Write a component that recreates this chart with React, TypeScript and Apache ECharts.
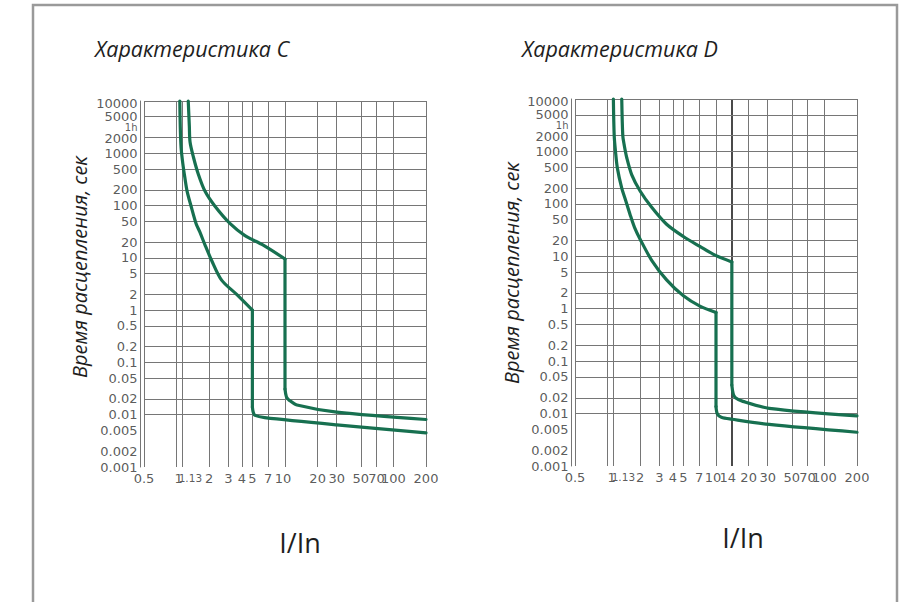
import React, { useEffect, useRef } from 'react';
import * as echarts from 'echarts';

// ---------- data ----------
const xTicksC = [0.5, 1, 1.13, 2, 3, 4, 5, 7, 10, 20, 30, 50, 70, 100, 200];
const xTicksD = [0.5, 1, 1.13, 2, 3, 4, 5, 7, 10, 14, 20, 30, 50, 70, 100, 200];
const yTicks = [10000, 5000, 2000, 1000, 500, 200, 100, 50, 20, 10, 5, 2, 1, 0.5, 0.2, 0.1, 0.05, 0.02, 0.01, 0.005, 0.002, 0.001];
const hourValue = 3600;
const hourLabel = '1h';

// Characteristic C (I/In, seconds); *Knee = index where the curve drops vertically
const cLowerI = [1.07, 1.08, 1.1, 1.14, 1.19, 1.25, 1.36, 1.51, 1.64, 1.83, 2.1, 2.6, 3.58, 5, 5, 5.1, 5.29, 6.5, 30, 200];
const cLowerT = [10000, 3280, 1265, 640, 347, 187, 97, 45.6, 31, 17.5, 9, 3.75, 2, 1, 0.014, 0.011, 0.0097, 0.0088, 0.0064, 0.0045];
const cLowerKnee = 13;
const cUpperI = [1.28, 1.31, 1.33, 1.43, 1.58, 1.83, 2.26, 3.1, 4.27, 6.3, 10, 10, 10.3, 10.9, 12.9, 30, 200];
const cUpperT = [10000, 3300, 1640, 840, 407, 187, 97, 45.6, 26.7, 17.5, 9.5, 0.031, 0.022, 0.019, 0.0153, 0.0112, 0.0081];
const cUpperKnee = 10;

// Characteristic D (I/In, seconds)
const dLowerI = [1.13, 1.15, 1.18, 1.23, 1.35, 1.47, 1.61, 1.77, 2, 2.55, 3.5, 5, 7.1, 10, 10, 10.3, 11.2, 14, 31, 200];
const dLowerT = [10000, 2000, 1040, 480, 200, 115, 63, 35.7, 21, 8.4, 3.55, 1.76, 1.12, 0.85, 0.0136, 0.0098, 0.0085, 0.0078, 0.0062, 0.0044];
const dLowerKnee = 13;
const dUpperI = [1.35, 1.38, 1.42, 1.5, 1.67, 2, 2.55, 3.5, 5, 7.1, 9.8, 14, 14, 14.4, 15.1, 17.7, 31, 200];
const dUpperT = [10000, 2000, 1350, 766, 358, 174, 86, 40.8, 23.8, 15.4, 10.5, 7.8, 0.035, 0.024, 0.02, 0.0171, 0.0126, 0.009];
const dUpperKnee = 11;

// ---------- styling ----------
const GREEN = '#177050';
const GRID = '#767676';
const LABEL = '#303030';
const TICK_FONT = '"DejaVu Sans", "Liberation Sans", sans-serif';
const TITLE_FONT = '"Open Sans", "Noto Sans", sans-serif';

const xLabelAdjC: Record<string, [number, number, number]> = {
  '1': [2, 0, 13],
  '1.13': [8, 1, 10.5],
  '10': [-2, 0, 13],
};
const xLabelAdjD: Record<string, [number, number, number]> = {
  '1': [4, 0, 13],
  '1.13': [10, 1, 10.5],
  '10': [-3, 0, 13],
  '14': [-4, 0, 13],
};

type Curve = { xs: number[]; ts: number[]; knee: number };

function lineSeries(idx: number, pts: number[][], smooth: number) {
  return {
    type: 'line',
    xAxisIndex: idx,
    yAxisIndex: idx,
    data: pts,
    showSymbol: false,
    symbol: 'none',
    smooth,
    clip: false,
    silent: true,
    lineStyle: { color: GREEN, width: 3.2, cap: 'round', join: 'round' },
    z: 5,
  };
}

function panelSeries(
  idx: number,
  xTicks: number[],
  adj: Record<string, [number, number, number]>,
  curves: Curve[],
  heavy: number | null
) {
  const xLabelData = xTicks.map((v) => {
    const name = String(v);
    const a = adj[name] || [0, 0, 13];
    return {
      name,
      value: [v, 0.001],
      label: { offset: [a[0], a[1]], fontSize: a[2] },
    };
  });
  const yLabelData: any[] = yTicks.map((v) => {
    const name = String(v);
    let off: [number, number] = [0, 0];
    if (v === 10000) off = [0, 2];
    if (v === 2000) off = [0, 1];
    return { name, value: [0.5, v], label: { offset: off } };
  });
  yLabelData.push({
    name: hourLabel,
    value: [0.5, hourValue],
    label: { offset: [0, 3], fontSize: 10 },
  });

  const gridLines: any[] = [
    ...xTicks.map((v) =>
      v === heavy
        ? { xAxis: v, lineStyle: { color: '#2a2a2a', width: 1.7 } }
        : { xAxis: v }
    ),
    ...yTicks.map((v) => ({ yAxis: v })),
  ];

  const out: any[] = [
    {
      type: 'scatter',
      xAxisIndex: idx,
      yAxisIndex: idx,
      symbolSize: 1,
      itemStyle: { color: 'rgba(0,0,0,0)' },
      clip: false,
      silent: true,
      data: xLabelData,
      label: {
        show: true,
        position: 'bottom',
        distance: 4,
        formatter: '{b}',
        color: LABEL,
        fontFamily: TICK_FONT,
        fontSize: 13,
      },
      markLine: {
        silent: true,
        symbol: ['none', 'none'],
        label: { show: false },
        lineStyle: { color: GRID, width: 1, type: 'solid' },
        emphasis: { disabled: true },
        data: gridLines,
      },
      z: 2,
    },
    {
      type: 'scatter',
      xAxisIndex: idx,
      yAxisIndex: idx,
      symbolSize: 1,
      itemStyle: { color: 'rgba(0,0,0,0)' },
      clip: false,
      silent: true,
      data: yLabelData,
      label: {
        show: true,
        position: 'left',
        distance: 6,
        formatter: '{b}',
        color: LABEL,
        fontFamily: TICK_FONT,
        fontSize: 13,
      },
      z: 2,
    },
  ];
  curves.forEach((c) => {
    const pts = c.xs.map((x, k) => [x, c.ts[k]]);
    // smooth time-current part, straight instantaneous drop, smooth tail
    out.push(lineSeries(idx, pts.slice(0, c.knee + 1), 0.3));
    out.push(lineSeries(idx, pts.slice(c.knee, c.knee + 2), 0));
    out.push(lineSeries(idx, pts.slice(c.knee + 1), 0.3));
  });
  return out;
}

export default function App() {
  const ref = useRef<HTMLDivElement>(null);
  useEffect(() => {
    if (!ref.current) return;
    const chart = echarts.init(ref.current, undefined, { renderer: 'svg' });
    const axisX = (i: number) => ({
      type: 'log',
      logBase: 10,
      min: 0.5,
      max: 200,
      gridIndex: i,
      axisLine: { show: false },
      axisTick: { show: false },
      axisLabel: { show: false },
      splitLine: { show: false },
    });
    const axisY = (i: number) => ({
      type: 'log',
      logBase: 10,
      min: 0.001,
      max: 10000,
      gridIndex: i,
      offset: 4,
      axisLine: { show: true, onZero: false, lineStyle: { color: GRID, width: 1 } },
      axisTick: { show: false },
      axisLabel: { show: false },
      splitLine: { show: false },
    });
    const titleText = (text: string, x: number, y: number) => ({
      type: 'text',
      x,
      y,
      silent: true,
      style: {
        text,
        fill: '#1e1e1e',
        fontSize: 21.5,
        fontStyle: 'italic',
        fontFamily: TITLE_FONT,
        align: 'left',
        verticalAlign: 'middle',
      },
    });
    const yName = (x: number, y: number) => ({
      type: 'text',
      x,
      y,
      rotation: Math.PI / 2,
      silent: true,
      style: {
        text: 'Время расцепления, сек',
        fill: '#1e1e1e',
        fontSize: 20,
        fontStyle: 'italic',
        fontFamily: TITLE_FONT,
        align: 'center',
        verticalAlign: 'middle',
      },
    });
    const xName = (x: number, y: number) => ({
      type: 'text',
      x,
      y,
      silent: true,
      style: {
        text: 'I/In',
        fill: '#1e1e1e',
        fontSize: 27,
        fontFamily: '"Open Sans", "Noto Sans", sans-serif',
        align: 'center',
        verticalAlign: 'middle',
      },
    });
    chart.setOption({
      animation: false,
      backgroundColor: '#ffffff',
      grid: [
        { left: 144, top: 101, width: 282, height: 366 },
        { left: 575, top: 99, width: 282, height: 367 },
      ],
      xAxis: [axisX(0), axisX(1)],
      yAxis: [axisY(0), axisY(1)],
      graphic: [
        {
          type: 'rect',
          silent: true,
          shape: { x: 33, y: 5, width: 864, height: 640 },
          style: { fill: 'none', stroke: '#9a9a9a', lineWidth: 2.5 },
        },
        titleText('Характеристика C', 95, 48),
        titleText('Характеристика D', 522, 48),
        yName(79, 267),
        yName(511, 273),
        xName(300, 542),
        xName(743, 537),
      ],
      series: [
        ...panelSeries(0, xTicksC, xLabelAdjC, [
          { xs: cLowerI, ts: cLowerT, knee: cLowerKnee },
          { xs: cUpperI, ts: cUpperT, knee: cUpperKnee },
        ], null),
        ...panelSeries(1, xTicksD, xLabelAdjD, [
          { xs: dLowerI, ts: dLowerT, knee: dLowerKnee },
          { xs: dUpperI, ts: dUpperT, knee: dUpperKnee },
        ], 14),
      ],
    });
    return () => chart.dispose();
  }, []);
  return (
    <div
      ref={ref}
      style={{ position: 'absolute', left: 0, top: 0, width: 912, height: 602, background: '#fff' }}
    />
  );
}
